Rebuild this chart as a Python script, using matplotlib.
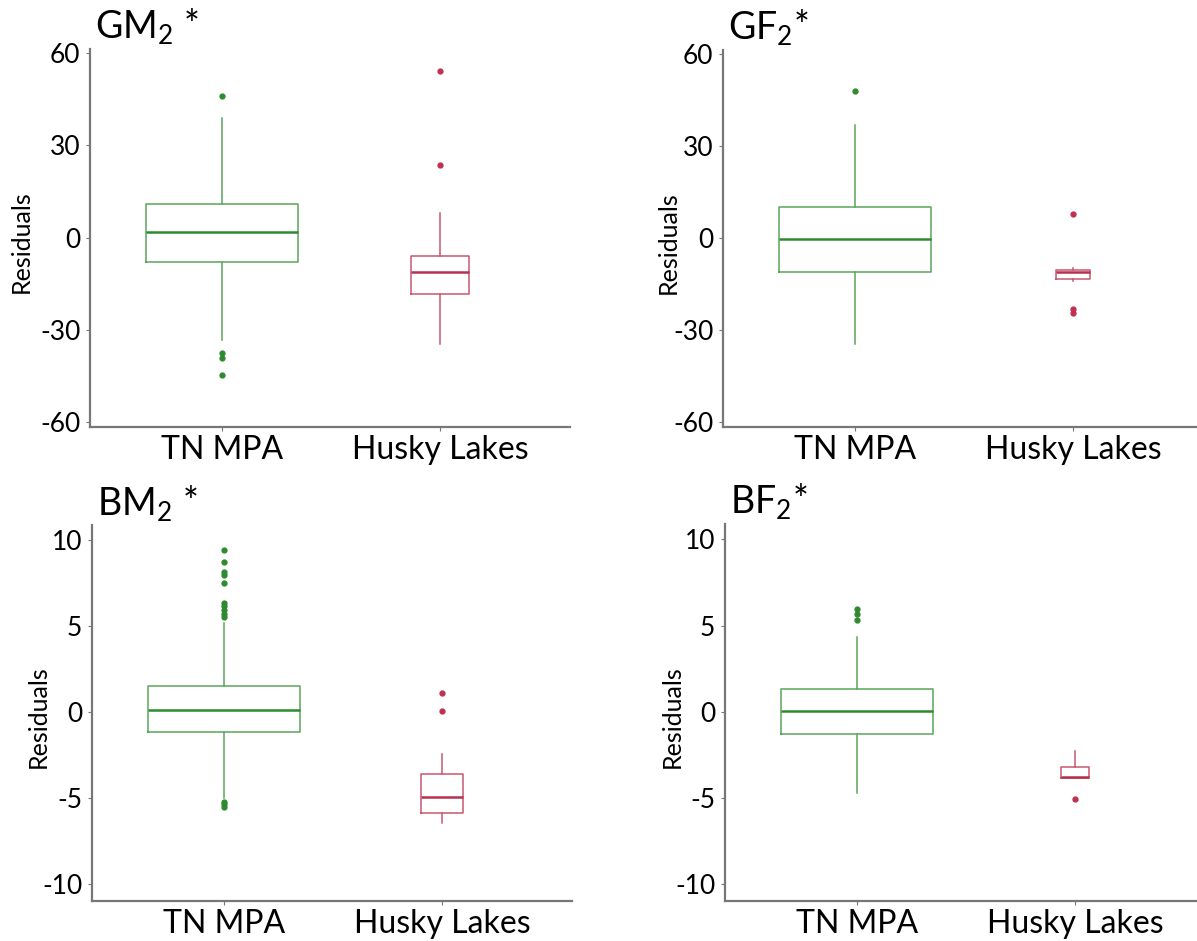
import matplotlib
matplotlib.use('Agg')
import matplotlib.pyplot as plt

plt.rcParams['font.family'] = ['Lato', 'DejaVu Sans']
plt.rcParams['mathtext.fontset'] = 'custom'
plt.rcParams['mathtext.rm'] = 'Lato'
plt.rcParams['axes.unicode_minus'] = False

# Residual box plots: TN MPA vs Husky Lakes
categories = ['TN MPA', 'Husky Lakes']
titles = [r'GM$_\mathrm{2}$ *', r'GF$_\mathrm{2}$*', r'BM$_\mathrm{2}$ *', r'BF$_\mathrm{2}$*']

# GM2
gm_med = [1.9, -11.2]
gm_q1 = [-7.8, -18.2]
gm_q3 = [11.1, -5.8]
gm_lo = [-33.3, -34.4]
gm_hi = [38.8, 7.9]
gm_out = [[46.0, -37.5, -39.0, -44.7], [54.3, 23.5]]

# GF2
gf_med = [-0.3, -10.9]
gf_q1 = [-10.9, -13.4]
gf_q3 = [10.1, -10.4]
gf_lo = [-34.5, -13.9]
gf_hi = [36.9, -9.6]
gf_out = [[47.8], [7.8, -23.2, -24.3]]

# BM2
bm_med = [0.12, -4.92]
bm_q1 = [-1.14, -5.89]
bm_q3 = [1.51, -3.62]
bm_lo = [-5.02, -6.47]
bm_hi = [5.19, -2.44]
bm_out = [[9.46, 8.76, 8.18, 7.97, 7.52, 6.36, 6.16, 5.93, 5.74, 5.54,
           -5.21, -5.36, -5.5], [1.09, 0.04]]

# BF2
bf_med = [0.04, -3.8]
bf_q1 = [-1.32, -3.85]
bf_q3 = [1.3, -3.2]
bf_lo = [-4.75, -3.85]
bf_hi = [4.34, -2.29]
bf_out = [[5.95, 5.65, 5.31], [-5.1]]

panels = [
    (gm_med, gm_q1, gm_q3, gm_lo, gm_hi, gm_out),
    (gf_med, gf_q1, gf_q3, gf_lo, gf_hi, gf_out),
    (bm_med, bm_q1, bm_q3, bm_lo, bm_hi, bm_out),
    (bf_med, bf_q1, bf_q3, bf_lo, bf_hi, bf_out),
]
husky_widths = [0.266, 0.157, 0.19, 0.127]

edge_cols = ['#5aa55a', '#c8576f']
med_cols = ['#2f8a2f', '#b8304f']
dot_cols = ['#2f8a2f', '#c03050']

fig = plt.figure(figsize=(11.97, 9.41), dpi=100)
W, H = 1197, 941
# axes boxes in pixels: left, top, bottom
boxes = [(90, 49, 427), (723, 50, 427), (92, 525, 901), (725, 524, 901)]
ylab_x = [-0.119, -0.09, -0.088, -0.085]

for i, (med, q1, q3, lo, hi, out) in enumerate(panels):
    l, t, b = boxes[i]
    ax = fig.add_axes([l / W, 1 - b / H, 480 / W, (b - t) / H])
    stats = []
    for j in range(2):
        stats.append(dict(med=med[j], q1=q1[j], q3=q3[j], whislo=lo[j],
                          whishi=hi[j], fliers=out[j], label=categories[j]))
    for j in range(2):
        ax.bxp([stats[j]], positions=[j], widths=[0.70 if j == 0 else husky_widths[i]],
               showcaps=False,
               boxprops=dict(color=edge_cols[j], linewidth=1.1),
               whiskerprops=dict(color=edge_cols[j], linewidth=1.1),
               medianprops=dict(color=med_cols[j], linewidth=1.8),
               flierprops=dict(marker='o', markersize=3.5, markerfacecolor=dot_cols[j],
                               markeredgecolor=dot_cols[j]))
    ax.set_xlim(-0.606, 1.596)
    ax.set_xticks([0, 1])
    ax.set_xticklabels(categories, fontsize=23)
    if i < 2:
        ax.set_ylim(-61.5, 61.3)
        ax.set_yticks([-60, -30, 0, 30, 60])
    else:
        ax.set_ylim(-11.0, 10.9)
        ax.set_yticks([-10, -5, 0, 5, 10])
    ax.tick_params(axis='y', labelsize=19, length=3, color='#777777', pad=4)
    ax.tick_params(axis='x', length=3, color='#777777', pad=3)
    ax.set_ylabel('Residuals', fontsize=18)
    ax.yaxis.set_label_coords(ylab_x[i], 0.49)
    for s in ['top', 'right']:
        ax.spines[s].set_visible(False)
    for s in ['left', 'bottom']:
        ax.spines[s].set_color('#777777')
        ax.spines[s].set_linewidth(1.6)
    ax.text(0.01, 1.026, titles[i], transform=ax.transAxes, fontsize=27,
            ha='left', va='baseline')

fig.savefig('out.png', dpi=100)
